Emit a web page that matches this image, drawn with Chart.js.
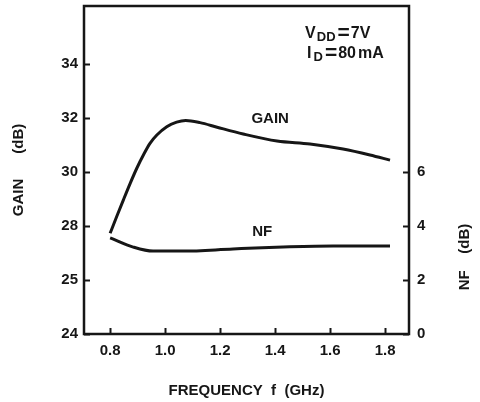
<!DOCTYPE html>
<html>
<head>
<meta charset="utf-8">
<script src="https://cdn.jsdelivr.net/npm/chart.js"></script>
<style>
  html, body { margin: 0; padding: 0; background: #fff; }
  #wrap { width: 480px; height: 402px; }
</style>
</head>
<body>
<div id="wrap"><canvas id="chart" width="480" height="402"></canvas></div>
<script>
// values
const gainFreq = [0.80, 0.824, 0.848, 0.873, 0.897, 0.921, 0.945, 0.970, 1.006, 1.042, 1.075, 1.127, 1.189, 1.284, 1.407, 1.527, 1.647, 1.745, 1.818];
const gainDb   = [27.73, 28.35, 28.96, 29.58, 30.14, 30.63, 31.06, 31.37, 31.68, 31.85, 31.91, 31.83, 31.66, 31.41, 31.15, 31.04, 30.85, 30.63, 30.44];
const nfFreq = [0.80, 0.884, 0.956, 1.065, 1.247, 1.429, 1.611, 1.818];
const nfDb   = [3.56, 3.22, 3.07, 3.07, 3.15, 3.22, 3.26, 3.26];

const freqTicks = [0.8, 1.0, 1.2, 1.4, 1.6, 1.8];
const gainTicks = [24, 26, 28, 30, 32, 34];
const gainTickLabels = ['24', '25', '28', '30', '32', '34']; // printed this way in the original
const nfTicks = [0, 2, 4, 6];

const ink = '#161616';
const fam = '"Liberation Sans", Arial, Helvetica, sans-serif';

function pts(xs, ys) {
  return xs.map((x, i) => ({ x: x, y: ys[i] }));
}

// frame, curve labels, bias conditions and the right axis title
const annotate = {
  id: 'annotate',
  afterDraw(chart) {
    const { ctx, chartArea: a } = chart;
    const x = chart.scales.x, yg = chart.scales.yGain, yn = chart.scales.yNf;
    ctx.save();
    ctx.strokeStyle = ink;
    ctx.lineWidth = 2.5;
    ctx.strokeRect(a.left, a.top, a.right - a.left, a.bottom - a.top);

    ctx.fillStyle = ink;
    ctx.textAlign = 'center';
    ctx.textBaseline = 'middle';
    ctx.font = 'bold 15px ' + fam;
    ctx.fillText('GAIN', x.getPixelForValue(1.382), yg.getPixelForValue(31.96));
    ctx.fillText('NF', x.getPixelForValue(1.353), yn.getPixelForValue(3.78));

    // V_DD = 7V / I_D = 80 mA, drawn piece by piece for the subscripts
    ctx.textAlign = 'left';
    ctx.textBaseline = 'alphabetic';
    function put(text, size, px, py, gap) {
      ctx.font = 'bold ' + size + 'px ' + fam;
      ctx.fillText(text, px, py);
      return px + ctx.measureText(text).width + gap;
    }
    const lx = x.getPixelForValue(1.509);
    let py = yg.getPixelForValue(34.96);
    let px = put('V', 16, lx, py, 1);
    px = put('DD', 13, px, py + 3, 2);
    px = put('=', 21, px, py + 1, 1);
    put('7V', 16, px, py, 0);

    py = yg.getPixelForValue(34.22);
    px = put('I', 16, lx + 2, py, 2);
    px = put('D', 13, px, py + 3, 2);
    px = put('=', 21, px, py + 1, 1);
    px = put('80', 16, px, py, 2);
    put('mA', 16, px, py, 0);

    ctx.font = 'bold 15px ' + fam;
    ctx.textAlign = 'center';
    ctx.textBaseline = 'middle';
    ctx.translate(465, 257);
    ctx.rotate(-Math.PI / 2);
    ctx.fillText('NF    (dB)', 0, 0);
    ctx.restore();
  }
};

const tickFont = { family: fam, size: 15, weight: 'bold' };
const titleFont = { family: fam, size: 15, weight: 'bold' };

// keep the plot box where the original has it
function fixV(w) {
  return s => { s.width = w; s.paddingTop = 0; s.paddingBottom = 0; };
}

new Chart(document.getElementById('chart'), {
  type: 'scatter',
  data: {
    datasets: [
      {
        label: 'GAIN',
        data: pts(gainFreq, gainDb),
        yAxisID: 'yGain',
        showLine: true,
        borderColor: ink,
        borderWidth: 3,
        pointRadius: 0,
        cubicInterpolationMode: 'monotone'
      },
      {
        label: 'NF',
        data: pts(nfFreq, nfDb),
        yAxisID: 'yNf',
        showLine: true,
        borderColor: ink,
        borderWidth: 3,
        pointRadius: 0,
        cubicInterpolationMode: 'monotone'
      }
    ]
  },
  options: {
    responsive: false,
    animation: false,
    layout: { padding: { top: 6 } },
    plugins: { legend: { display: false }, tooltip: { enabled: false } },
    scales: {
      x: {
        type: 'linear',
        min: 0.705,
        max: 1.887,
        afterBuildTicks: s => { s.ticks = freqTicks.map(v => ({ value: v })); },
        afterFit: s => { s.height = 68; s.paddingLeft = 0; s.paddingRight = 0; },
        border: { display: false },
        grid: { drawOnChartArea: false, tickLength: -6, tickWidth: 2, color: ink },
        ticks: { color: ink, font: tickFont, padding: 14, maxRotation: 0,
                 callback: v => v.toFixed(1) },
        title: { display: true, text: 'FREQUENCY  f  (GHz)', color: ink, font: titleFont,
                 padding: { top: 2, bottom: 2 } }
      },
      yGain: {
        position: 'left',
        min: 24,
        max: 36.15,
        afterBuildTicks: s => { s.ticks = gainTicks.map(v => ({ value: v })); },
        afterFit: fixV(84),
        border: { display: false },
        grid: { drawOnChartArea: false, tickLength: -6, tickWidth: 2, color: ink },
        ticks: { color: ink, font: tickFont, padding: 12,
                 callback: v => gainTickLabels[gainTicks.indexOf(v)] },
        title: { display: true, text: 'GAIN      (dB)', color: ink, font: titleFont,
                 padding: { top: 10, bottom: 10 } }
      },
      yNf: {
        position: 'right',
        min: 0,
        max: 12.15,
        afterBuildTicks: s => { s.ticks = nfTicks.map(v => ({ value: v })); },
        afterFit: fixV(71),
        border: { display: false },
        grid: { drawOnChartArea: false, tickLength: -6, tickWidth: 2, color: ink },
        ticks: { color: ink, font: tickFont, padding: 14 }
      }
    }
  },
  plugins: [annotate]
});
</script>
</body>
</html>
